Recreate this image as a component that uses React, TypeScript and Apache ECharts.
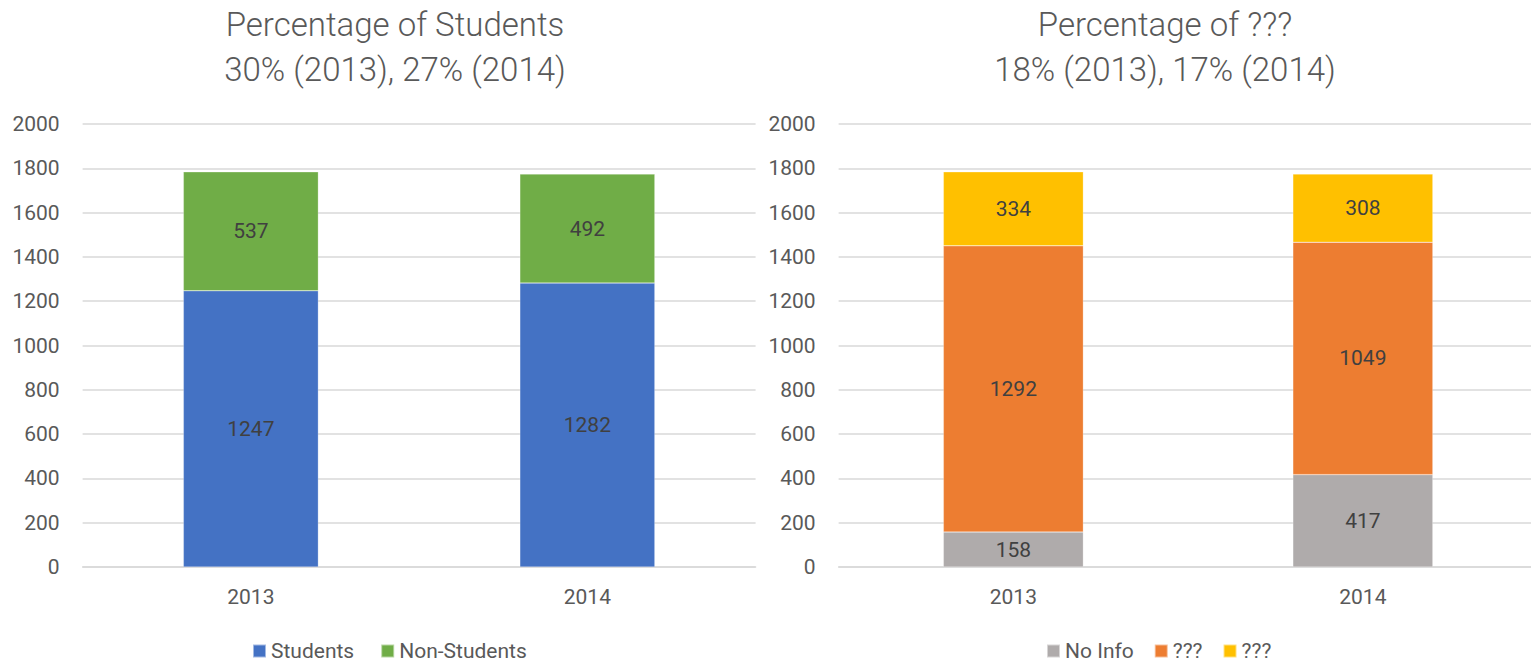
import React, { useEffect, useRef } from "react";
import * as echarts from "echarts";

const years = ["2013", "2014"];
const students = [1247, 1282];
const nonStudents = [537, 492];
const noInfo = [158, 417];
const unknownA = [1292, 1049];
const unknownB = [334, 308];
const yTicks = { min: 0, max: 2000, interval: 200 };
const leftTitle = "Percentage of Students\n30% (2013), 27% (2014)";
const rightTitle = "Percentage of ???\n18% (2013), 17% (2014)";

const FONT = "Roboto";
const TXT = "#595959";
const GRID = "#d9d9d9";

export default function App() {
  const ref = useRef<HTMLDivElement>(null);
  useEffect(() => {
    if (!ref.current) return;
    const chart = echarts.init(ref.current, null, { renderer: "svg" });
    const yAxisBase = (gi: number) => ({
      type: "value",
      gridIndex: gi,
      min: yTicks.min,
      max: yTicks.max,
      interval: yTicks.interval,
      axisLine: { show: false },
      axisTick: { show: false },
      axisLabel: {
        color: TXT,
        fontSize: 21,
        fontFamily: FONT,
        margin: 23,
        formatter: (v: number) => String(v),
      },
      splitLine: { lineStyle: { color: GRID, width: 1.5 } },
    });
    const xAxisBase = (gi: number) => ({
      type: "category",
      gridIndex: gi,
      data: years,
      axisLine: { lineStyle: { color: GRID, width: 1.5 } },
      axisTick: { show: false },
      axisLabel: { color: TXT, fontSize: 21, fontFamily: FONT, margin: 19 },
    });
    const label = {
      show: true,
      position: "inside",
      color: "#404040",
      fontSize: 21,
      fontFamily: FONT,
    };
    const bar = (name: string, data: number[], color: string, gi: number, stack: string, w: number) => ({
      type: "bar",
      name,
      data,
      stack,
      xAxisIndex: gi,
      yAxisIndex: gi,
      barWidth: w,
      itemStyle: { color, borderColor: "rgba(255,255,255,0.5)", borderWidth: 0.5 },
      label,
    });
    const titleStyle = {
      color: TXT,
      fontSize: 33,
      fontWeight: 300,
      fontFamily: FONT,
      lineHeight: 45,
    };
    const legendText = { color: TXT, fontSize: 21, fontFamily: FONT, lineHeight: 22 };
    chart.setOption({
      animation: false,
      title: [
        { text: leftTitle, left: 390, top: -3, textAlign: "center", textStyle: titleStyle },
        { text: rightTitle, left: 1160, top: -3, textAlign: "center", textStyle: titleStyle },
      ],
      grid: [
        { left: 82.6, top: 124, width: 673, height: 443 },
        { left: 838.6, top: 124, width: 699, height: 443 },
      ],
      xAxis: [xAxisBase(0), xAxisBase(1)],
      yAxis: [yAxisBase(0), yAxisBase(1)],
      legend: [
        {
          data: ["Students", "Non-Students"],
          left: 252,
          top: 640,
          padding: 0,
          itemWidth: 13,
          itemHeight: 13,
          itemGap: 26,
          icon: "rect",
          textStyle: legendText,
        },
        {
          data: ["No Info", "???_a", "???_b"],
          left: 1046,
          top: 640,
          padding: 0,
          itemWidth: 13,
          itemHeight: 13,
          itemGap: 20,
          icon: "rect",
          formatter: (n: string) => (n.startsWith("???") ? "???" : n),
          textStyle: legendText,
        },
      ],
      series: [
        bar("Students", students, "#4472C4", 0, "a", 135),
        bar("Non-Students", nonStudents, "#70AD47", 0, "a", 135),
        bar("No Info", noInfo, "#AFABAB", 1, "b", 140),
        bar("???_a", unknownA, "#ED7D31", 1, "b", 140),
        bar("???_b", unknownB, "#FFC000", 1, "b", 140),
      ],
    });
    return () => chart.dispose();
  }, []);
  return (
    <div
      style={{
        position: "absolute",
        left: 0,
        top: 0,
        width: 1531,
        height: 663,
        overflow: "hidden",
        background: "#fff",
      }}
    >
      <div ref={ref} style={{ width: 1545, height: 663 }} />
    </div>
  );
}
